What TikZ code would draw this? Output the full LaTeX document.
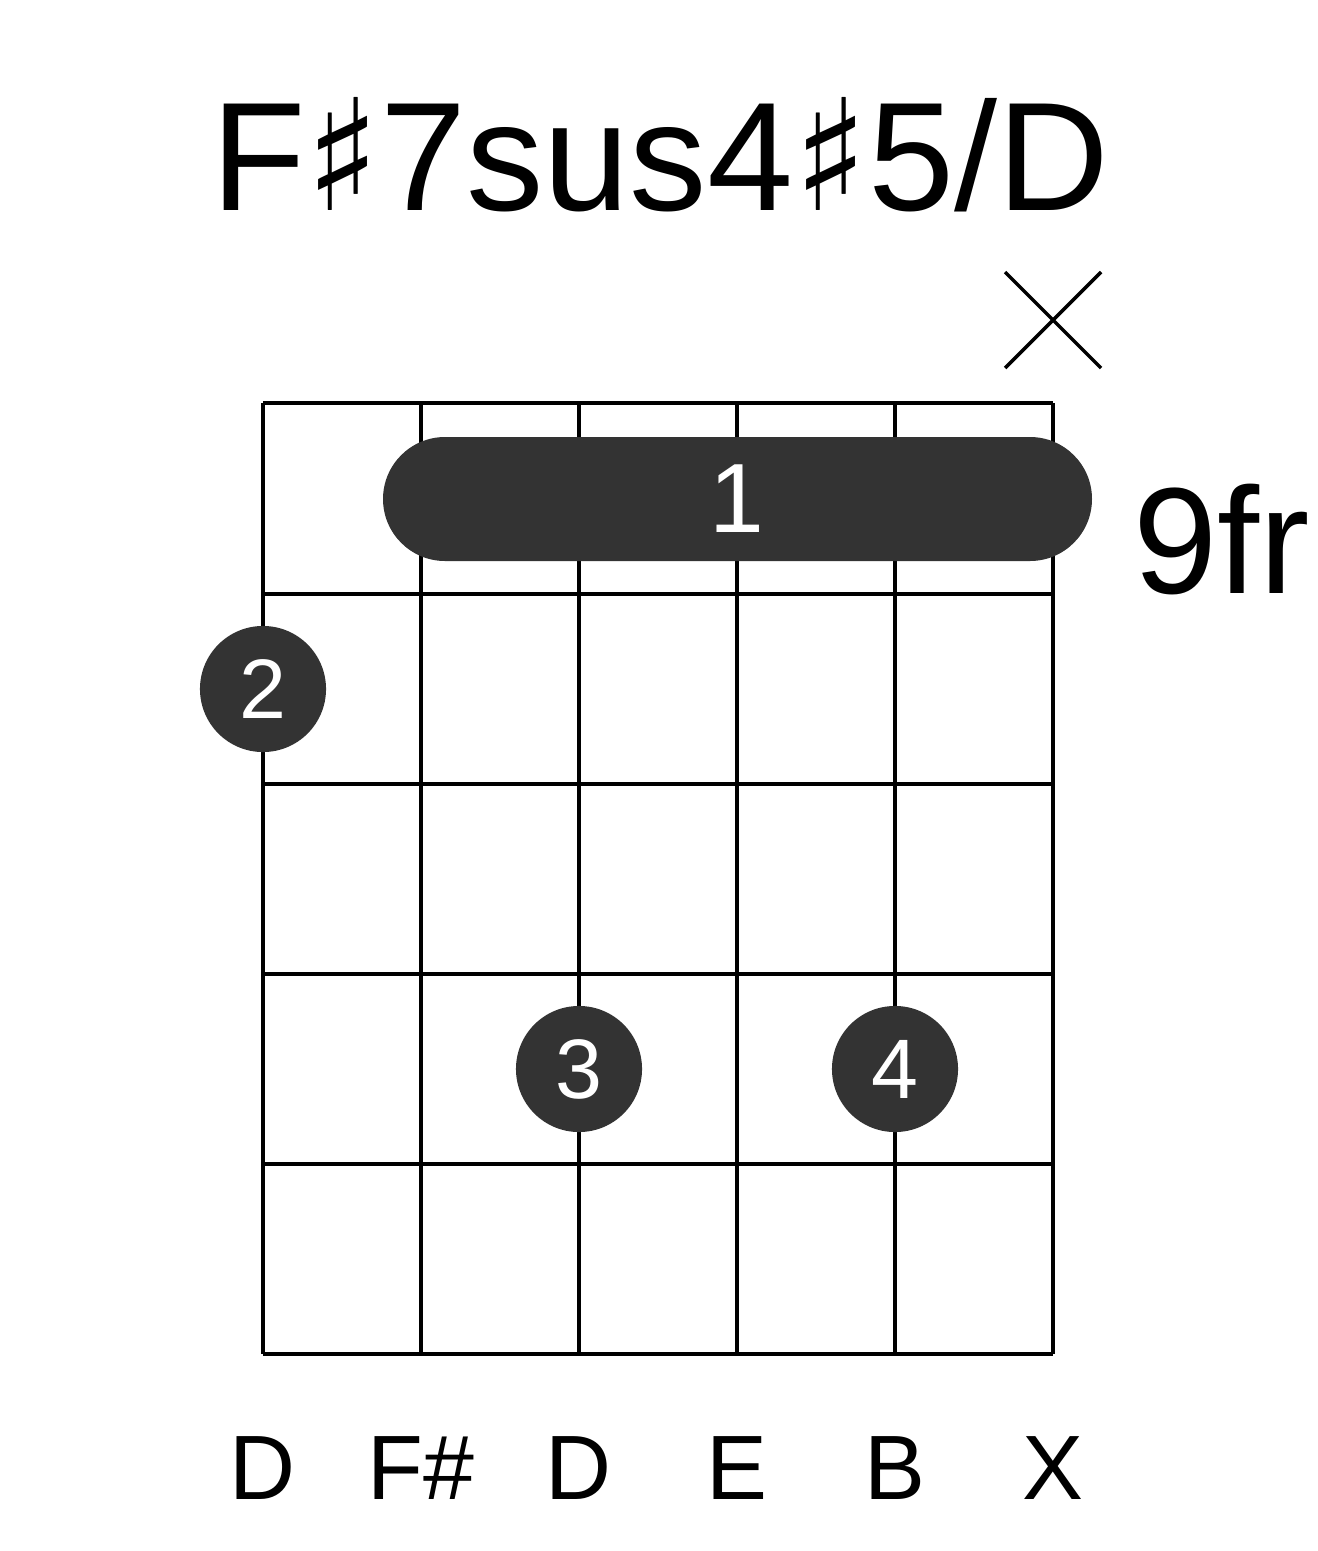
\documentclass[tikz,border=0pt]{standalone}
\usepackage{fontspec}
\setmainfont{Liberation Sans}
\newfontfamily\symfont{DejaVu Sans}
\newcommand{\shp}{{\symfont\char"266F}}
\begin{document}
\begin{tikzpicture}[x=0.01cm,y=-0.01cm,
    fingerdot/.style={circle, fill=black!80, minimum size=1.26cm, inner sep=0pt, text=white, font=\fontsize{24}{24}\selectfont},
    stringname/.style={font=\fontsize{26}{26}\selectfont}]
    \useasboundingbox (0,0) rectangle (1317,1551);
    % Titre
    \node (title) at (660,155) {\fontsize{44}{44}\selectfont F\shp7sus4\shp5/D};
    % Grille
    \foreach \x in {263,421,579,737,895,1053}
        \draw[line width=1.3pt] (\x,403) -- (\x,1354);
    \foreach \y in {403,594,784,974,1164,1354}
        \draw[line width=1.3pt] (263,\y) -- (1053,\y);
    % Barre
    \fill[black!80, rounded corners=0.62cm] (383,437) rectangle (1092,561);
    \node[text=white, font=\fontsize{28}{28}\selectfont] (barre) at (737,499) {1};
    \node[font=\fontsize{43}{43}\selectfont] (fret) at (1222,540) {9fr};
    % Corde muette
    \draw[line width=1pt] (1005,272) -- (1101,368) (1005,368) -- (1101,272);
    % Doigts
    \node[fingerdot] (d2) at (263,689) {2};
    \node[fingerdot] (d3) at (579,1069) {3};
    \node[fingerdot] (d4) at (895,1069) {4};
    % Notes
    \foreach \x/\n in {263/D,421/F\#,579/D,737/E,895/B,1053/X}
        \node[stringname] at (\x,1468) {\n};
\end{tikzpicture}
\end{document}
